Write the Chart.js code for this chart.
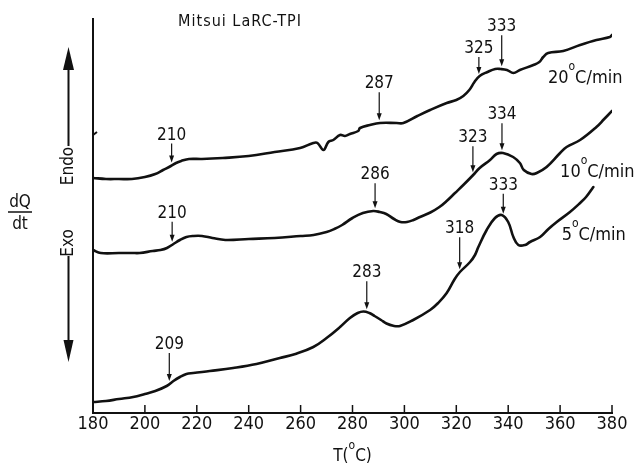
<!DOCTYPE html>
<html>
<head>
<meta charset="utf-8">
<script src="https://cdn.jsdelivr.net/npm/chart.js@4.4.1/dist/chart.umd.min.js"></script>
<style>
  html, body { margin: 0; padding: 0; background: #fff; }
  #dsc { display: block; }
</style>
</head>
<body>
<canvas id="dsc" width="637" height="465"></canvas>
<script>
// DSC traces of Mitsui LaRC-TPI, heat flow in arbitrary units
const temp20 = [180, 185, 190, 195, 200, 204, 207, 210, 212, 214, 217, 222, 230, 240, 250, 259.8, 264.9, 266.5, 268.8, 270.7, 272.6, 275.2, 277.1, 279, 282.2, 282.9, 286.7, 290.6, 297, 299.6, 305, 309.9, 316.3, 320, 322.7, 325, 327, 329, 332, 335, 337, 339.5, 342, 344.5, 349.7, 352, 353.5, 355.4, 361.2, 367.7, 374, 379.2, 380];
const signal20 = [23.5, 23.4, 23.4, 23.4, 23.6, 23.9, 24.3, 24.7, 25.0, 25.2, 25.4, 25.4, 25.5, 25.7, 26.1, 26.5, 27.0, 27.0, 26.3, 27.1, 27.3, 27.8, 27.7, 27.9, 28.2, 28.5, 28.8, 29.0, 29.0, 29.0, 29.7, 30.3, 31.0, 31.3, 31.7, 32.3, 33.1, 33.7, 34.1, 34.4, 34.4, 34.3, 34.0, 34.3, 34.8, 35.1, 35.6, 36.0, 36.2, 36.8, 37.3, 37.6, 37.8];

const temp10 = [180, 183, 190, 195, 198, 203, 206, 208.5, 211, 213.5, 216, 218.6, 222, 226, 231, 240, 250, 260, 265, 270, 273, 276, 280, 284, 288, 290.5, 293, 296, 298.5, 301, 303.5, 306, 310, 313.5, 316.3, 319.5, 322.7, 326.5, 329, 333, 335.5, 338, 341.9, 344.5, 346, 349, 351, 354.8, 360, 362.5, 367.7, 374, 377, 380];
const signal10 = [16.3, 16.0, 16.0, 16.0, 16.0, 16.2, 16.3, 16.5, 16.9, 17.3, 17.6, 17.7, 17.7, 17.5, 17.3, 17.4, 17.5, 17.7, 17.8, 18.1, 18.4, 18.8, 19.5, 20.0, 20.2, 20.1, 19.9, 19.4, 19.1, 19.1, 19.3, 19.6, 20.05, 20.6, 21.2, 22.0, 22.8, 23.8, 24.5, 25.3, 25.9, 26.0, 25.6, 25.0, 24.3, 23.9, 24.0, 24.6, 26.0, 26.6, 27.3, 28.6, 29.4, 30.2];

const temp5 = [180, 185, 190, 195.5, 200, 204, 208.4, 211, 213.5, 216, 218.6, 225, 234, 243, 252, 258, 264.9, 270, 275.2, 279, 282, 284.2, 286.5, 288.5, 291, 293.1, 295.7, 298.3, 303.4, 309.9, 313, 316.3, 319.4, 321.4, 325.3, 327.2, 328.5, 331.7, 334.9, 337.5, 340, 342, 343.9, 346.5, 348.4, 352.3, 355.5, 358.7, 363.8, 367.7, 370, 372.8];
const signal5 = [1.1, 1.2, 1.4, 1.6, 1.9, 2.2, 2.7, 3.2, 3.6, 3.9, 4.0, 4.2, 4.5, 4.9, 5.5, 5.9, 6.6, 7.5, 8.6, 9.5, 10.0, 10.15, 10.0, 9.7, 9.3, 8.95, 8.72, 8.7, 9.3, 10.3, 11.0, 12.0, 13.4, 14.1, 15.1, 15.8, 16.6, 18.3, 19.5, 19.8, 19.1, 17.6, 16.8, 16.8, 17.1, 17.6, 18.4, 19.1, 20.1, 21.0, 21.6, 22.6];

// arrowed transition temperatures: where the arrow sits, and what it says
const markT20 = [210.3, 290.3, 328.7, 337.5];
const markText20 = ['210', '287', '325', '333'];
const markT10 = [210.5, 288.7, 326.4, 337.6];
const markText10 = ['210', '286', '323', '334'];
const markT5 = [209.4, 285.5, 321.3, 338.1];
const markText5 = ['209', '283', '318', '333'];

const rates = ['20', '10', '5'];
const xTicks = [180, 200, 220, 240, 260, 280, 300, 320, 340, 360, 380];

// styling / placement
const INK = '#111';
const FONT = "'Liberation Sans Narrow', 'DejaVu Sans Condensed', sans-serif";
const markRise = [[26, 35, 24, 38], [27, 32, 33, 34], [35, 35, 39, 27]];
const rateAnchor = [[355.3, 33.0], [360.0, 23.6], [360.6, 17.35]];

const temps = [temp20, temp10, temp5];
const signals = [signal20, signal10, signal5];
const markTs = [markT20, markT10, markT5];
const markTexts = [markText20, markText10, markText5];

const interp = (xs, ys, t) => {
  for (let i = 1; i < xs.length; i++) {
    if (t <= xs[i]) {
      const f = (t - xs[i - 1]) / (xs[i] - xs[i - 1]);
      return ys[i - 1] + f * (ys[i] - ys[i - 1]);
    }
  }
  return ys[ys.length - 1];
};

// text with a raised small "o" for the degree sign
const degText = (ctx, x, y, before, after, size, align) => {
  ctx.font = `${size}px ${FONT}`;
  const w1 = ctx.measureText(before).width;
  const w3 = ctx.measureText(after).width;
  ctx.font = `${Math.round(size * 0.68)}px ${FONT}`;
  const w2 = ctx.measureText('o').width;
  let x0 = align === 'center' ? x - (w1 + w2 + w3) / 2 : x;
  ctx.textAlign = 'left';
  ctx.textBaseline = 'alphabetic';
  ctx.font = `${size}px ${FONT}`;
  ctx.fillText(before, x0, y);
  ctx.font = `${Math.round(size * 0.68)}px ${FONT}`;
  ctx.fillText('o', x0 + w1, y - size * 0.72);
  ctx.font = `${size}px ${FONT}`;
  ctx.fillText(after, x0 + w1 + w2, y);
};

const decor = {
  id: 'decor',
  afterDatasetsDraw(chart) {
    const { ctx, chartArea: a, scales: { x, y } } = chart;
    ctx.save();
    ctx.strokeStyle = INK;
    ctx.fillStyle = INK;

    // y axis line and upward x ticks
    ctx.lineWidth = 2;
    ctx.beginPath();
    ctx.moveTo(a.left, a.top);
    ctx.lineTo(a.left, a.bottom);
    ctx.stroke();
    ctx.beginPath();
    ctx.moveTo(a.left, 135);
    ctx.lineTo(a.left + 4, 132);
    ctx.stroke();
    ctx.lineWidth = 1.5;
    xTicks.forEach((v) => {
      const px = x.getPixelForValue(v);
      ctx.beginPath();
      ctx.moveTo(px, a.bottom);
      ctx.lineTo(px, a.bottom - 8);
      ctx.stroke();
    });

    // arrows + temperature labels
    ctx.font = `17px ${FONT}`;
    ctx.lineWidth = 1.2;
    markTs.forEach((ts, i) => {
      ts.forEach((t, j) => {
        const px = x.getPixelForValue(t);
        const cy = y.getPixelForValue(interp(temps[i], signals[i], t));
        const base = cy - markRise[i][j];
        const tip = cy - 3;
        ctx.beginPath();
        ctx.moveTo(px, base + 4);
        ctx.lineTo(px, tip - 5);
        ctx.stroke();
        ctx.beginPath();
        ctx.moveTo(px - 2.5, tip - 7);
        ctx.lineTo(px + 2.5, tip - 7);
        ctx.lineTo(px, tip);
        ctx.closePath();
        ctx.fill();
        ctx.textAlign = 'center';
        ctx.textBaseline = 'alphabetic';
        ctx.fillText(markTexts[i][j], px, base);
      });
    });

    // heating-rate labels
    rates.forEach((r, i) => {
      degText(ctx, x.getPixelForValue(rateAnchor[i][0]), y.getPixelForValue(rateAnchor[i][1]), r, 'C/min', 18, 'left');
    });

    // title
    ctx.font = `16px ${FONT}`;
    ctx.letterSpacing = '1px';
    ctx.textAlign = 'center';
    ctx.textBaseline = 'alphabetic';
    ctx.fillText('Mitsui LaRC-TPI', 240, 26);
    ctx.letterSpacing = '0px';

    // x axis title
    degText(ctx, x.getPixelForValue(280), 461, 'T(', 'C)', 17, 'center');

    // dQ/dt with Endo / Exo arrows
    ctx.font = `17px ${FONT}`;
    ctx.textAlign = 'center';
    ctx.fillText('dQ', 20, 207);
    ctx.fillText('dt', 20, 229);
    ctx.lineWidth = 1.5;
    ctx.beginPath();
    ctx.moveTo(8, 212);
    ctx.lineTo(32, 212);
    ctx.stroke();

    ctx.lineWidth = 2;
    ctx.beginPath();
    ctx.moveTo(68.5, 146);
    ctx.lineTo(68.5, 66);
    ctx.moveTo(68.5, 256);
    ctx.lineTo(68.5, 342);
    ctx.stroke();
    ctx.beginPath();
    ctx.moveTo(63, 70);
    ctx.lineTo(74, 70);
    ctx.lineTo(68.5, 47);
    ctx.closePath();
    ctx.fill();
    ctx.beginPath();
    ctx.moveTo(63.5, 340);
    ctx.lineTo(73.5, 340);
    ctx.lineTo(68.5, 362);
    ctx.closePath();
    ctx.fill();

    ctx.textBaseline = 'middle';
    [['Endo', 166], ['Exo', 243]].forEach(([s, cy]) => {
      ctx.save();
      ctx.translate(68.5, cy);
      ctx.rotate(-Math.PI / 2);
      ctx.fillText(s, 0, 0);
      ctx.restore();
    });
    ctx.restore();
  },
};

const ctx = document.querySelector('#dsc').getContext('2d');
const chart = new Chart(ctx, {
  type: 'line',
  data: {
    datasets: temps.map((ts, i) => ({
      label: rates[i] + ' C/min',
      data: ts.map((t, k) => ({ x: t, y: signals[i][k] })),
      borderColor: INK,
      borderWidth: 2.6,
      borderJoinStyle: 'round',
      borderCapStyle: 'round',
      pointRadius: 0,
      fill: false,
      tension: 0.4,
    })),
  },
  options: {
    responsive: false,
    animation: false,
    devicePixelRatio: 1,
    layout: { padding: { left: 93, right: 25, top: 18, bottom: 0 } },
    plugins: { legend: { display: false }, tooltip: { enabled: false } },
    scales: {
      x: {
        type: 'linear',
        min: 180,
        max: 380,
        afterBuildTicks: (scale) => { scale.ticks = xTicks.map((v) => ({ value: v })); },
        afterFit: (scale) => { scale.height = 52; },
        grid: { display: false, drawTicks: false },
        border: { display: true, color: INK, width: 2 },
        ticks: { color: INK, padding: 1, maxRotation: 0, font: { family: FONT, size: 18 } },
      },
      y: { display: false, min: 0, max: 39.5 },
    },
  },
  plugins: [decor],
});
</script>
</body>
</html>
